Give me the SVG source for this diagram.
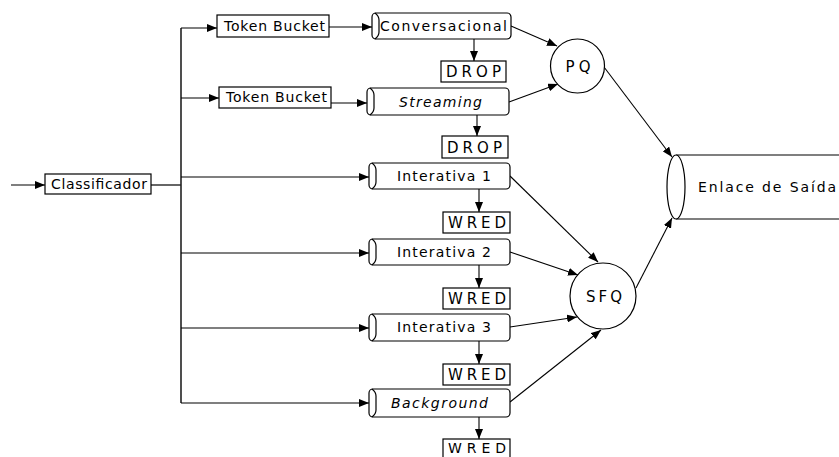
<svg xmlns="http://www.w3.org/2000/svg" width="839" height="457" viewBox="0 0 839 457">
  <style>
    .box { fill: #fff; stroke: #000; stroke-width: 1.2; }
    .cap { fill: none; stroke: #000; stroke-width: 1.2; }
    .lbl { font-family: "DejaVu Sans", "Liberation Sans", Arial, sans-serif; font-size: 14px; fill: #000; }
    .big { font-size: 15px; }
    .med { font-size: 15px; }
    .it { font-style: italic; }
    .mid { text-anchor: middle; }
    .wire { fill: none; stroke: #000; stroke-width: 1.2; }
    .trunk { fill: none; stroke: #222; stroke-width: 1.6; }
    .arr { fill: none; stroke: #000; stroke-width: 1.1; marker-end: url(#head); }
  </style>
  <defs>
    <marker id="head" viewBox="0 0 10 8" refX="10" refY="4" markerWidth="10" markerHeight="8" markerUnits="userSpaceOnUse" orient="auto">
      <path d="M0,0 L10,4 L0,8 Z" fill="#000"/>
    </marker>
  </defs>
  <rect width="839" height="457" fill="#fff"/>

  <!-- connectors -->
  <g id="connectors">
    <path class="arr" d="M11,185 H45"/>
    <path class="wire" d="M151,185 H181"/>
    <path class="trunk" d="M181,28 V403"/>
    <path class="arr" d="M181,28 H217"/>
    <path class="arr" d="M181,98 H219"/>
    <path class="arr" d="M181,177 H369"/>
    <path class="arr" d="M181,253 H369"/>
    <path class="arr" d="M181,328 H369"/>
    <path class="arr" d="M181,403 H369"/>
    <path class="arr" d="M329,27 H372"/>
    <path class="arr" d="M331,103 H367"/>
    <path class="arr" d="M474,39 V61"/>
    <path class="arr" d="M477,115 V136"/>
    <path class="arr" d="M479,189 V212"/>
    <path class="arr" d="M479,265 V288"/>
    <path class="arr" d="M479,341 V364"/>
    <path class="arr" d="M479,417 V439"/>
    <path class="arr" d="M511,26 L557,46"/>
    <path class="arr" d="M509,102 L558,84"/>
    <path class="arr" d="M604,67 L672,157"/>
    <path class="arr" d="M510,176 L598,262"/>
    <path class="arr" d="M510,252 L578,275"/>
    <path class="arr" d="M510,327 L577,317"/>
    <path class="arr" d="M510,402 L601,330"/>
    <path class="arr" d="M636,288 L672,218"/>
  </g>

  <g id="classificador">
    <rect class="box" x="45" y="174" width="106" height="20"/>
    <text class="lbl" x="51" y="189" textLength="96" lengthAdjust="spacing">Classificador</text>
  </g>

  <g id="token-bucket-1">
    <rect class="box" x="217" y="15" width="112" height="22"/>
    <text class="lbl" x="224" y="31" textLength="101" lengthAdjust="spacing">Token Bucket</text>
  </g>
  <g id="token-bucket-2">
    <rect class="box" x="219" y="87" width="112" height="21"/>
    <text class="lbl" x="226" y="102" textLength="101" lengthAdjust="spacing">Token Bucket</text>
  </g>

  <!-- queues: rounded bar with an open left end -->
  <g id="q-conversacional">
    <rect class="box" x="372" y="13" width="139" height="26" rx="4"/>
    <path class="cap" d="M375,13 Q379,16 379,20 V32 Q379,36 375,39"/>
    <text class="lbl" x="380" y="31" textLength="127" lengthAdjust="spacing">Conversacional</text>
  </g>
  <g id="q-streaming">
    <rect class="box" x="367" y="88" width="142" height="27" rx="4"/>
    <path class="cap" d="M370,88 Q374,91 374,95 V108 Q374,112 370,115"/>
    <text class="lbl it" x="399" y="107" textLength="83" lengthAdjust="spacing">Streaming</text>
  </g>
  <g id="q-interativa-1">
    <rect class="box" x="369" y="163" width="141" height="26" rx="4"/>
    <path class="cap" d="M372,163 Q376,166 376,170 V182 Q376,186 372,189"/>
    <text class="lbl" x="397" y="181" textLength="94" lengthAdjust="spacing">Interativa 1</text>
  </g>
  <g id="q-interativa-2">
    <rect class="box" x="369" y="239" width="141" height="26" rx="4"/>
    <path class="cap" d="M372,239 Q376,242 376,246 V258 Q376,262 372,265"/>
    <text class="lbl" x="397" y="257" textLength="94" lengthAdjust="spacing">Interativa 2</text>
  </g>
  <g id="q-interativa-3">
    <rect class="box" x="369" y="314" width="141" height="27" rx="4"/>
    <path class="cap" d="M372,314 Q376,317 376,321 V334 Q376,338 372,341"/>
    <text class="lbl" x="397" y="332" textLength="94" lengthAdjust="spacing">Interativa 3</text>
  </g>
  <g id="q-background">
    <rect class="box" x="369" y="389" width="141" height="28" rx="4"/>
    <path class="cap" d="M372,389 Q376,392 376,396 V410 Q376,414 372,417"/>
    <text class="lbl it" x="391" y="408" textLength="97" lengthAdjust="spacing">Background</text>
  </g>

  <g id="drop-1">
    <rect class="box" x="441" y="61" width="65" height="21"/>
    <text class="lbl big" x="446" y="77" textLength="55" lengthAdjust="spacing">DROP</text>
  </g>
  <g id="drop-2">
    <rect class="box" x="442" y="136" width="66" height="22"/>
    <text class="lbl big" x="447" y="152.5" textLength="55" lengthAdjust="spacing">DROP</text>
  </g>
  <g id="wred-1">
    <rect class="box" x="443" y="212" width="67" height="21"/>
    <text class="lbl big" x="448" y="228" textLength="58" lengthAdjust="spacing">WRED</text>
  </g>
  <g id="wred-2">
    <rect class="box" x="443" y="288" width="67" height="21"/>
    <text class="lbl big" x="448" y="304" textLength="58" lengthAdjust="spacing">WRED</text>
  </g>
  <g id="wred-3">
    <rect class="box" x="443" y="364" width="67" height="21"/>
    <text class="lbl big" x="448" y="380" textLength="58" lengthAdjust="spacing">WRED</text>
  </g>
  <g id="wred-4">
    <rect class="box" x="443" y="439" width="67" height="21"/>
    <text class="lbl" x="448" y="453" textLength="58" lengthAdjust="spacing">WRED</text>
  </g>

  <g id="pq">
    <circle class="box" cx="577.5" cy="66" r="27"/>
    <text class="lbl med mid" x="578" y="71.5" textLength="25" lengthAdjust="spacing">PQ</text>
  </g>
  <g id="sfq">
    <circle class="box" cx="603" cy="296" r="33"/>
    <text class="lbl med mid" x="604" y="301.5" textLength="36" lengthAdjust="spacing">SFQ</text>
  </g>

  <g id="enlace-de-saida">
    <path class="wire" d="M676,155 H839 M676,219 H839"/>
    <ellipse class="box" cx="676" cy="187" rx="9" ry="32"/>
    <text class="lbl" x="698" y="192" textLength="138" lengthAdjust="spacing">Enlace de Saída</text>
  </g>
</svg>
